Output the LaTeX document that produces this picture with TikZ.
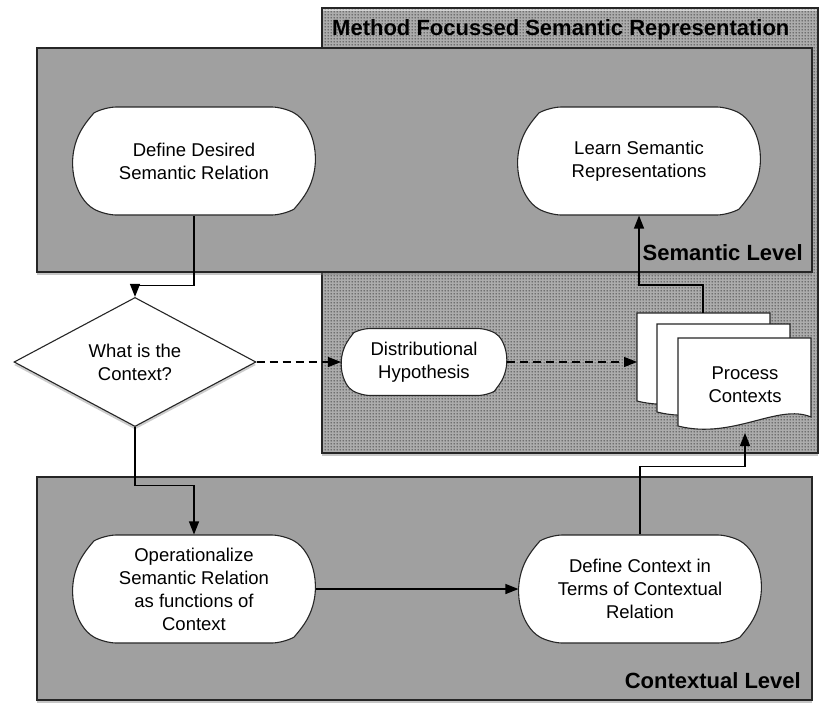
\documentclass[tikz,border=0pt]{standalone}
\usepackage{fontspec}
\setmainfont{Liberation Sans}
\usepackage{tikz}
\usetikzlibrary{positioning,%
  shapes.geometric,%
  shapes.misc,%
  arrows.meta,%
  shadows,%
  patterns
}

\definecolor{levelgray}{RGB}{160,160,160}

% a coarser dot screen than the built-in one
\pgfdeclarepatternformonly{screendots}{\pgfpointorigin}{\pgfpoint{3pt}{3pt}}{\pgfpoint{3pt}{3pt}}{%
  \pgfpathcircle{\pgfpoint{1.5pt}{1.5pt}}{0.95pt}%
  \pgfusepath{fill}%
}

\tikzset{
  levelbox/.style={draw=black!85, line width=1.1pt, fill=levelgray,
    drop shadow={shadow xshift=0pt, shadow yshift=-3pt, opacity=.45}},
  dotbox/.style={draw=black!85, line width=1.1pt, preaction={fill=black!18},
    pattern=screendots, pattern color=black!80,
    drop shadow={shadow xshift=0pt, shadow yshift=-3pt, opacity=.45}},
  procnode/.style={rounded rectangle, rounded rectangle arc length=120,
    rounded corners=12pt,
    draw=black!85, line width=1.1pt, fill=white, align=center, inner sep=0pt,
    minimum width=242pt, minimum height=108pt,
    font=\fontsize{18.5}{23}\selectfont},
  asknode/.style={diamond, draw=black!85, line width=1.1pt, fill=white,
    align=center, inner sep=0pt, minimum width=242pt, minimum height=96pt,
    font=\fontsize{18.5}{23}\selectfont,
    drop shadow={shadow xshift=0pt, shadow yshift=-3pt, opacity=.4}},
  sheet/.style={draw=black!85, line width=1.1pt, fill=white},
  headlabel/.style={font=\fontsize{22}{26}\selectfont\bfseries, inner sep=0pt},
  flow/.style={line width=1.2pt, -{Triangle[length=13pt,width=10pt]}},
  dashflow/.style={flow, dash pattern=on 8pt off 5pt}
}

\begin{document}
\begin{tikzpicture}[x=1pt,y=-1pt]
  \useasboundingbox (0,0) rectangle (821,702);

  % level boxes
  \draw[dotbox] (322,8) rectangle (818,453);
  \draw[levelbox] (37,48) rectangle (812,272);
  \draw[levelbox] (37,477) rectangle (812,700);

  \node[headlabel, anchor=west] (methodlabel) at (332,30) {Method Focussed Semantic Representation};
  \node[headlabel, anchor=east] (semlabel) at (803,253) {Semantic Level};
  \node[headlabel, anchor=east] (ctxlabel) at (801,681) {Contextual Level};

  % steps
  \node[procnode] (define) at (194,161) {Define Desired\\Semantic Relation};
  \node[procnode] (learn) at (639,161) {Learn Semantic\\Representations};
  \node[asknode] (question) at (135,362) {What is the\\Context?};
  \node[procnode, minimum width=165pt, minimum height=67pt, rounded corners=9pt] (hypothesis) at (424,362) {Distributional\\Hypothesis};
  \node[procnode] (operational) at (194,589) {Operationalize\\Semantic Relation\\as functions of\\Context};
  \node[procnode] (defcontext) at (640,589) {Define Context in\\Terms of Contextual\\Relation};

  % stacked documents
  \foreach \dx/\dy in {0/0, 20/11, 41/25}
    \draw[sheet, shift={(\dx,\dy)}] (637,313) -- (770,313) -- (770,392)
      .. controls (737,378) and (692,415) .. (637,401) -- cycle;
  \node[align=center, inner sep=0pt, font=\fontsize{18.5}{23}\selectfont] (docs) at (745,385) {Process\\Contexts};
  \coordinate (docin) at (637,362);
  \coordinate (docout) at (703,313);
  \coordinate (docbottom) at (745,433);

  % connectors
  \draw[flow] (define.south) -- ++(0,70) -| (question.north);
  \draw[dashflow] (question.east) -- (hypothesis.west);
  \draw[dashflow] (hypothesis.east) -- (docin);
  \draw[flow] (docout) -- ++(0,-28) -| (learn.south);
  \draw[flow] (question.south) -- ++(0,58) -| (operational.north);
  \draw[flow] (operational.east) -- (defcontext.west);
  \draw[flow] (defcontext.north) -- ++(0,-68) -| (docbottom);
\end{tikzpicture}
\end{document}
